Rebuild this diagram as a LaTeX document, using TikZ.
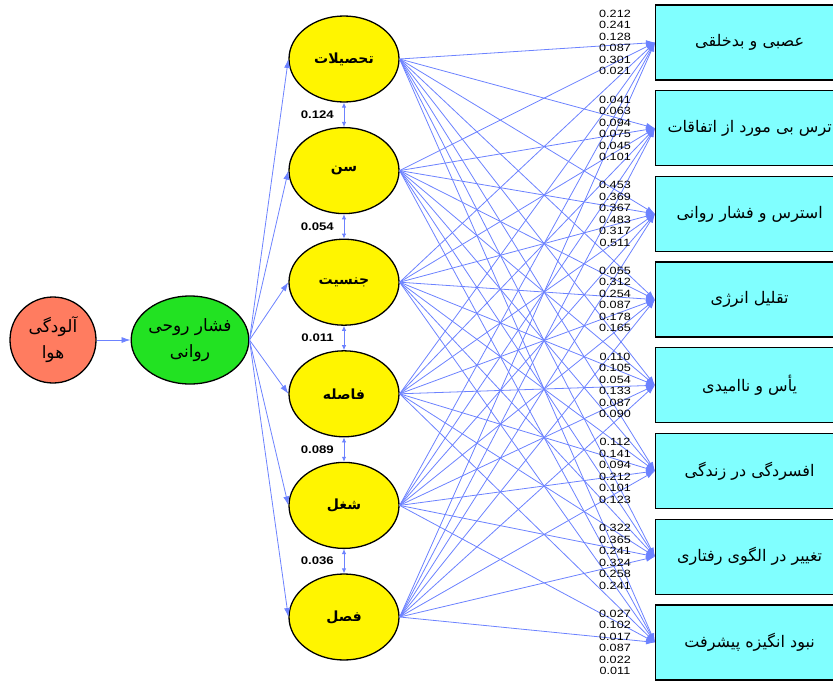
\documentclass[tikz,border=0pt]{standalone}
\usepackage{fontspec}
\setmainfont{Liberation Sans}
\newfontfamily\farsi[Script=Arabic]{DejaVu Sans}
\TeXXeTstate=1
\usetikzlibrary{arrows.meta,shapes.geometric}

\definecolor{linkblue}{RGB}{108,130,255}
\definecolor{airred}{RGB}{255,124,96}
\definecolor{stressgreen}{RGB}{34,226,34}
\definecolor{facyellow}{RGB}{255,245,0}
\definecolor{boxcyan}{RGB}{128,255,255}

\newcommand{\fa}[1]{{\farsi\beginR #1\endR}}

\begin{document}
\begin{tikzpicture}[x=1pt,y=-1pt,
    link/.style={draw=linkblue,line width=0.8pt,-{Latex[length=9pt,width=6pt]}},
    corr/.style={draw=linkblue,line width=0.9pt,{Latex[length=5pt,width=4.5pt]}-{Latex[length=5pt,width=4.5pt]}},
    factor/.style={draw,ellipse,line width=1.3pt,fill=facyellow,minimum width=110pt,
      minimum height=86pt,inner sep=0pt,font=\fontsize{14}{16}\selectfont\bfseries},
    itembox/.style={draw,rectangle,line width=1.3pt,fill=boxcyan,minimum width=200pt,
      minimum height=75pt,anchor=west},
    coef/.style={inner sep=0pt,font=\fontsize{10.5}{10.5}\selectfont},
    corrlab/.style={inner sep=0pt,font=\fontsize{11}{11}\selectfont\bfseries}]
  \clip (0,0) rectangle (833,683);

  % exposure and mediator
  \node[draw,circle,line width=1.3pt,fill=airred,minimum size=86pt,inner sep=0pt,align=center,
    font=\fontsize{17}{26}\selectfont] (air) at (53,340) {\fa{آلودگی}\\\fa{هوا}};
  \node[draw,ellipse,line width=1.3pt,fill=stressgreen,minimum width=114pt,minimum height=88pt,
    inner sep=0pt,align=center,font=\fontsize{17}{26}\selectfont] (stress) at (190,340)
    {\fa{فشار روحی}\\\fa{روانی}};
  \draw[link] (air) -- (stress);

  % demographic factors
  \foreach \name [count=\i] in {تحصیلات,سن,جنسیت,فاصله,شغل,فصل}
    \node[factor] (f\i) at (344,{59+111.6*(\i-1)}) {\fa{\name}};

  \foreach \i in {1,...,6}
    \draw[link] (stress.east) -- (f\i.west);

  % correlations between neighbours
  \foreach \i/\j/\r in {1/2/0.124,2/3/0.054,3/4/0.011,4/5/0.089,5/6/0.036} {
    \draw[corr] (f\i.south) -- (f\j.north);
    \path (f\i.south) -- (f\j.north)
      node[corrlab,midway,left=10pt] (r\i) {\scalebox{1.2}[1]{\r}};
  }

  % symptom boxes
  \foreach \txt [count=\j] in {عصبی و بدخلقی,ترس بی مورد از اتفاقات,استرس و فشار روانی,
      تقلیل انرژی,یأس و ناامیدی,افسردگی در زندگی,تغییر در الگوی رفتاری,نبود انگیزه پیشرفت} {
    \node[itembox] (b\j) at (655,{42.5+85.7*(\j-1)}) {};
    \node[font=\fontsize{16}{18}\selectfont] (t\j) at ([xshift=-6pt]b\j.center) {\fa{\txt}};
  }

  \foreach \i in {1,...,6}
    \foreach \j in {1,...,8}
      \draw[link] (f\i.east) -- (b\j.west);

  % path coefficients
  \foreach \j/\vals in {1/{0.212,0.241,0.128,0.087,0.301,0.021},
      2/{0.041,0.063,0.094,0.075,0.045,0.101},
      3/{0.453,0.369,0.367,0.483,0.317,0.511},
      4/{0.055,0.312,0.254,0.087,0.178,0.165},
      5/{0.110,0.105,0.054,0.133,0.087,0.090},
      6/{0.112,0.141,0.094,0.212,0.101,0.123},
      7/{0.322,0.365,0.241,0.324,0.258,0.241},
      8/{0.027,0.102,0.017,0.087,0.022,0.011}}
    \foreach \v [count=\i] in \vals
      \node[coef] (c\j-\i) at (615,{42.5+85.7*(\j-1)+11.5*(\i-3.5)}) {\scalebox{1.2}[1]{\v}};
\end{tikzpicture}
\end{document}
